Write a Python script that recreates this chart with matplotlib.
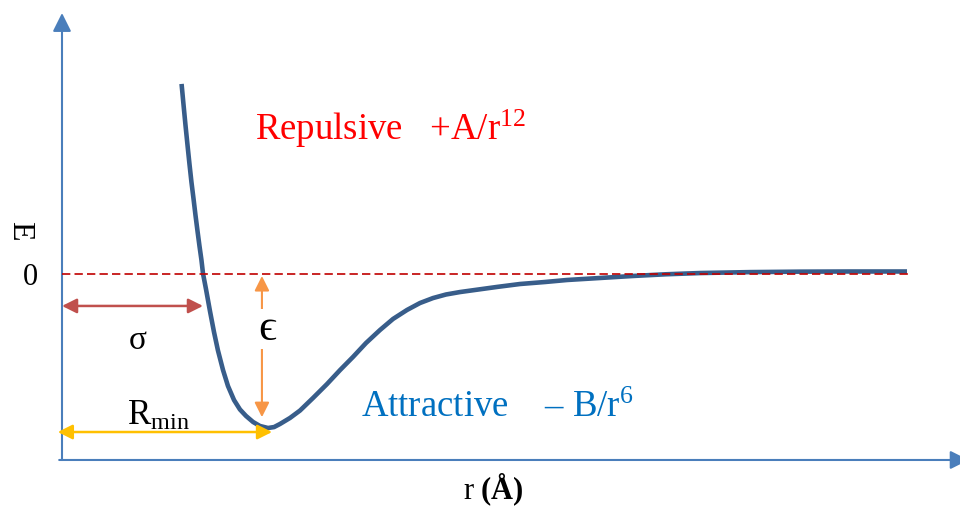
import matplotlib
matplotlib.use('Agg')
import matplotlib.pyplot as plt

plt.rcParams['font.family'] = ['Liberation Serif', 'DejaVu Serif']
plt.rcParams['mathtext.fontset'] = 'custom'
plt.rcParams['mathtext.rm'] = 'Liberation Serif'
plt.rcParams['mathtext.it'] = 'Liberation Serif:italic'
plt.rcParams['mathtext.bf'] = 'Liberation Serif:bold'
plt.rcParams['mathtext.default'] = 'rm'

# potential curve, reduced units: r/sigma and E/epsilon
r = [0.848, 0.862, 0.876, 0.890, 0.904, 0.918, 0.933, 0.947, 0.961, 0.975,
     0.989, 1.000, 1.021, 1.050, 1.078, 1.106, 1.142, 1.177, 1.220, 1.262,
     1.305, 1.355, 1.404, 1.461, 1.504, 1.546, 1.617, 1.688, 1.780, 1.879,
     1.972, 2.064, 2.156, 2.255, 2.348, 2.447, 2.539, 2.631, 2.723, 2.823,
     2.950, 3.085, 3.248, 3.426, 3.582, 3.816, 4.050, 4.284, 4.525, 4.879,
     5.234, 5.589, 5.993]
E = [1.227, 1.091, 0.958, 0.832, 0.709, 0.592, 0.482, 0.375, 0.275, 0.178,
     0.087, 0.000, -0.100, -0.246, -0.379, -0.498, -0.625, -0.728, -0.819, -0.880,
     -0.922, -0.961, -0.987, -1.000, -0.994, -0.974, -0.935, -0.887, -0.806, -0.716,
     -0.625, -0.540, -0.450, -0.366, -0.294, -0.236, -0.191, -0.159, -0.136, -0.120,
     -0.104, -0.087, -0.068, -0.055, -0.042, -0.029, -0.016, -0.005, 0.003, 0.009,
     0.012, 0.013, 0.013]

sigma = 1.0
r_min = 1.49
eps = 1.0
r_end = 6.0

axis_col = '#4A7EBB'
curve_col = '#385D8A'

fig = plt.figure(figsize=(9.6, 5.08), dpi=100)
ax = fig.add_axes([0, 0, 1, 1])
ax.set_xlim(-62 / 141, 898 / 141)
ax.set_ylim((273.5 - 508) / 154.5, 273.5 / 154.5)
ax.axis('off')

y_floor = -1.207

def arrow(x0, y0, x1, y1, color, style='-|>', lw=1.5, ms=22, z=3):
    ax.annotate('', xy=(x1, y1), xytext=(x0, y0), annotation_clip=False,
                arrowprops=dict(arrowstyle=style, color=color, lw=lw,
                                mutation_scale=ms, shrinkA=0, shrinkB=0),
                zorder=z)

# axes with arrow heads
arrow(0, y_floor, 0, 1.686, axis_col, ms=28)
arrow(-0.02, y_floor, 6.43, y_floor, axis_col, ms=28)

ax.plot(r, E, color=curve_col, lw=3.3, solid_capstyle='butt',
        solid_joinstyle='round', zorder=2)
ax.plot([0, r_end], [0, 0], color='#C00000', lw=1.2, ls=(0, (5, 2.5)), zorder=4)

# sigma, R_min and epsilon markers
arrow(0, -0.210, sigma, -0.210, '#C0504D', style='<|-|>', lw=1.8, ms=22)
arrow(-0.03, -1.026, r_min, -1.026, '#FFC000', style='<|-|>', lw=1.8, ms=22, z=5)
arrow(1.418, -0.016, 1.418, -0.93 * eps, '#F79646', style='<|-|>', lw=1.5, ms=22)

ax.text(0.539, -0.437, 'σ', fontsize=24, ha='center', va='center')
ax.text(1.454, -0.359, 'ϵ', fontsize=32, ha='center', va='center',
        bbox=dict(fc='white', ec='none', pad=0), zorder=6)
ax.text(0.461, -0.981, r'R$_{\mathrm{min}}$', fontsize=25, ha='left', va='baseline')

ax.text(1.369, 0.864, r'Repulsive   +A/r$^{12}$', fontsize=26.5, color='#FF0000',
        ha='left', va='baseline')
ax.text(2.121, -0.929, r'Attractive    – B/r$^{6}$', fontsize=26.5, color='#0070C0',
        ha='left', va='baseline')

ax.text(-0.227, -0.029, '0', fontsize=22, ha='center', va='center')
ax.text(-0.298, 0.275, 'E', fontsize=23, ha='center', va='center', rotation=-90)
ax.text(3.057, -1.46, r'r $\mathbf{(Å)}$', fontsize=22, ha='center', va='baseline')

fig.savefig('out.png', dpi=100)
